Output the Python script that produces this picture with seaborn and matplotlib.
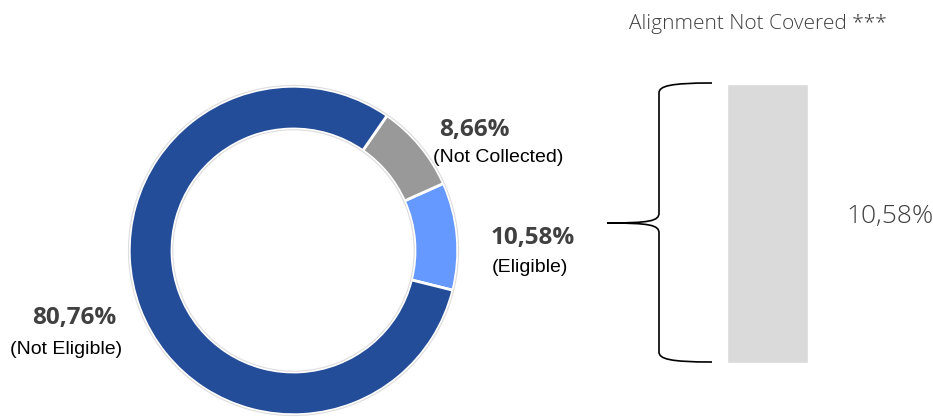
import matplotlib
matplotlib.use("Agg")
import matplotlib.pyplot as plt
import seaborn as sns
from matplotlib.path import Path
from matplotlib.patches import PathPatch, Circle

# Data
categories = ["Eligible", "Not Collected", "Not Eligible"]
shares = [10.58, 8.66, 80.76]
colors = ["#6699FF", "#999999", "#244D99"]
not_covered = [10.58]
bar_label = ["Alignment Not Covered ***"]

sns.set_theme(style="white")
plt.rcParams["font.family"] = ["Open Sans", "DejaVu Sans"]

W, H = 933, 417
fig = plt.figure(figsize=(W / 100, H / 100), dpi=100)


def box(x0, y0, x1, y1):
    # pixel box (top-left origin) -> figure fraction
    return [x0 / W, 1 - y1 / H, (x1 - x0) / W, (y1 - y0) / H]


# Donut
ax = fig.add_axes(box(126, 83, 461, 418))
ax.pie(
    shares,
    colors=colors,
    startangle=-14,
    counterclock=True,
    radius=1,
    wedgeprops=dict(width=0.26, edgecolor="white", linewidth=2),
)
ax.add_patch(Circle((0, 0), 1.005, fill=False, edgecolor="#DDDDDD", lw=0.8))
ax.add_patch(Circle((0, 0), 0.735, fill=False, edgecolor="#DDDDDD", lw=0.8))
ax.set_xlim(-1.02, 1.02)
ax.set_ylim(-1.02, 1.02)
ax.set_aspect("equal")
ax.axis("off")

# Slice labels
label_pos = {
    "Eligible": ((533, 238), (530, 268)),
    "Not Collected": ((474, 130), (498, 157)),
    "Not Eligible": ((74, 318), (66, 349)),
}
for cat, val in zip(categories, shares):
    (px, py), (lx, ly) = label_pos[cat]
    fig.text(px / W, 1 - py / H, f"{val:.2f}%".replace(".", ","),
             ha="center", va="center", fontsize=17.5, fontweight="bold",
             color="#404040")
    fig.text(lx / W, 1 - ly / H, f"({cat})", ha="center", va="center",
             fontsize=14, color="black", family=["Liberation Sans", "DejaVu Sans"])

# Gray bar
bax = fig.add_axes(box(727, 84, 808, 363))
sns.barplot(x=[""], y=not_covered, color="#DADADA", width=1, ax=bax,
            saturation=1)
bax.set_xlim(-0.5, 0.5)
bax.set_ylim(0, not_covered[0])
bax.axis("off")

fig.text(758 / W, 1 - 24 / H, bar_label[0], ha="center", va="center",
         fontsize=15, color="#404040", fontweight="light")
fig.text(890 / W, 1 - 217 / H, f"{not_covered[0]:.2f}%".replace(".", ","),
         ha="center", va="center", fontsize=19, color="#404040",
         fontweight="light")

# Curly bracket
oax = fig.add_axes([0, 0, 1, 1], facecolor="none")
oax.set_xlim(0, W)
oax.set_ylim(H, 0)
oax.axis("off")
xv, xe, xt = 659, 712, 607
yt, ym, yb = 83, 223, 362
verts = [
    (xe, yt), (670, yt), (xv, 86), (xv, 93),
    (xv, ym - 10),
    (xv, ym - 2), (650, ym), (xt, ym),
    (650, ym), (xv, ym + 2), (xv, ym + 10),
    (xv, yb - 10),
    (xv, yb - 3), (670, yb), (xe, yb),
]
codes = [Path.MOVETO, Path.CURVE4, Path.CURVE4, Path.CURVE4,
         Path.LINETO,
         Path.CURVE4, Path.CURVE4, Path.CURVE4,
         Path.CURVE4, Path.CURVE4, Path.CURVE4,
         Path.LINETO,
         Path.CURVE4, Path.CURVE4, Path.CURVE4]
oax.add_patch(PathPatch(Path(verts, codes), fill=False, edgecolor="black", lw=1.2))

fig.savefig("out.png", dpi=100)
